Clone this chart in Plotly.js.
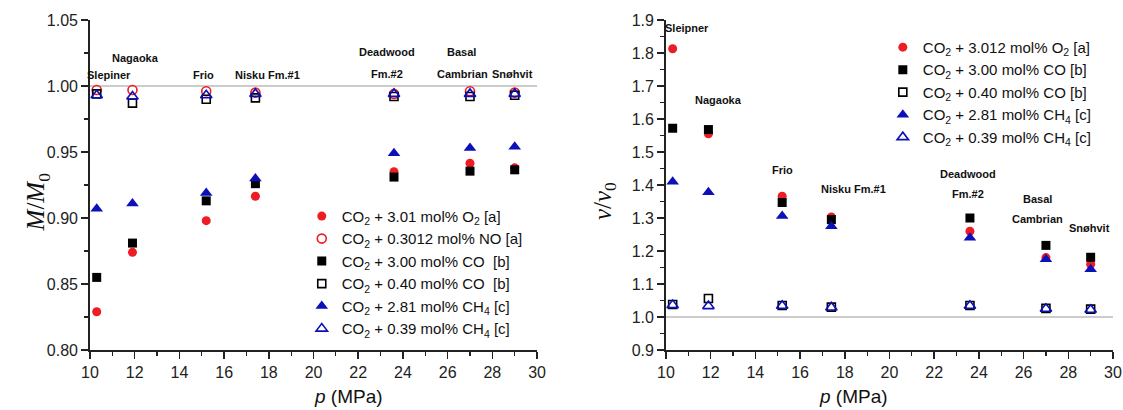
<!DOCTYPE html>
<html>
<head>
<meta charset="utf-8">
<script src="https://cdn.plot.ly/plotly-3.0.1.min.js"></script>
<style>html,body{margin:0;padding:0;background:#fff;}#chart{width:1123px;height:410px;}</style>
</head>
<body>
<div id="chart"></div>
<script>
// ---- data ----
const pressure = [10.3, 11.9, 15.2, 17.4, 23.6, 27.0, 29.0];
const sites = ["Slepiner", "Nagaoka", "Frio", "Nisku Fm.#1", "Deadwood", "Fm.#2", "Basal", "Cambrian", "Snøhvit"];
const sitesRight = ["Sleipner", "Nagaoka", "Frio", "Nisku Fm.#1", "Deadwood", "Fm.#2", "Basal", "Cambrian", "Snøhvit"];
const siteXLeft = [10.85, 12.02, 15.06, 17.93, 23.3, 23.3, 26.6, 26.65, 28.9];
const siteYLeft = [1.008, 1.021, 1.008, 1.008, 1.026, 1.009, 1.026, 1.009, 1.009];
const siteXRight = [10.93, 12.37, 15.2, 18.41, 23.53, 23.5, 26.61, 26.64, 28.94];
const siteYRight = [1.877, 1.657, 1.444, 1.388, 1.434, 1.374, 1.357, 1.298, 1.271];

// M/M0
const M_O2_301 = [0.829, 0.874, 0.898, 0.9165, 0.935, 0.9415, 0.938];
const M_NO_03012 = [0.997, 0.997, 0.996, 0.995, 0.994, 0.996, 0.995];
const M_CO_300 = [0.855, 0.881, 0.913, 0.926, 0.931, 0.9355, 0.9365];
const M_CO_040 = [0.994, 0.987, 0.990, 0.991, 0.992, 0.992, 0.993];
const M_CH4_281 = [0.907, 0.911, 0.919, 0.930, 0.949, 0.953, 0.954];
const M_CH4_039 = [0.993, 0.992, 0.993, 0.994, 0.994, 0.994, 0.994];

// v/v0
const V_O2_3012 = [1.813, 1.555, 1.366, 1.303, 1.260, 1.180, 1.160];
const V_CO_300 = [1.572, 1.568, 1.347, 1.295, 1.300, 1.217, 1.181];
const V_CO_040 = [1.038, 1.056, 1.035, 1.030, 1.035, 1.026, 1.024];
const V_CH4_281 = [1.410, 1.378, 1.306, 1.275, 1.240, 1.175, 1.145];
const V_CH4_039 = [1.036, 1.033, 1.034, 1.029, 1.034, 1.025, 1.022];

const legendLeft = [
  "CO<sub>2</sub> + 3.01 mol% O<sub>2</sub> [a]",
  "CO<sub>2</sub> + 0.3012 mol% NO [a]",
  "CO<sub>2</sub> + 3.00 mol% CO  [b]",
  "CO<sub>2</sub> + 0.40 mol% CO  [b]",
  "CO<sub>2</sub> + 2.81 mol% CH<sub>4</sub> [c]",
  "CO<sub>2</sub> + 0.39 mol% CH<sub>4</sub> [c]"
];
const legendRight = [
  "CO<sub>2</sub> + 3.012 mol% O<sub>2</sub> [a]",
  "CO<sub>2</sub> + 3.00 mol% CO [b]",
  "CO<sub>2</sub> + 0.40 mol% CO [b]",
  "CO<sub>2</sub> + 2.81 mol% CH<sub>4</sub> [c]",
  "CO<sub>2</sub> + 0.39 mol% CH<sub>4</sub> [c]"
];

// ---- styles ----
const RED = '#ee1c24', BLACK = '#000000', BLUE = '#0c10b8';
const FONT = 'Liberation Sans, Arial, sans-serif';
const SERIF = 'Liberation Serif, Times New Roman, serif';

function mk(x, y, name, symbol, color, size, xa, ya, legend) {
  const open = symbol.indexOf('open') >= 0;
  return {
    type: 'scatter', mode: 'markers', x: x, y: y, name: name,
    xaxis: xa, yaxis: ya, legend: legend, cliponaxis: false,
    marker: { symbol: symbol, color: color, size: size, line: { width: open ? 1.6 : 0, color: color } }
  };
}

const traces = [
  mk(pressure, M_O2_301, legendLeft[0], 'circle', RED, 9, 'x', 'y', 'legend'),
  mk(pressure, M_NO_03012, legendLeft[1], 'circle-open', RED, 9, 'x', 'y', 'legend'),
  mk(pressure, M_CO_300, legendLeft[2], 'square', BLACK, 9, 'x', 'y', 'legend'),
  mk(pressure, M_CO_040, legendLeft[3], 'square-open', BLACK, 8, 'x', 'y', 'legend'),
  mk(pressure, M_CH4_281, legendLeft[4], 'triangle-up', BLUE, 11, 'x', 'y', 'legend'),
  mk(pressure, M_CH4_039, legendLeft[5], 'triangle-up-open', BLUE, 10, 'x', 'y', 'legend'),
  mk(pressure, V_O2_3012, legendRight[0], 'circle', RED, 9, 'x2', 'y2', 'legend2'),
  mk(pressure, V_CO_300, legendRight[1], 'square', BLACK, 9, 'x2', 'y2', 'legend2'),
  mk(pressure, V_CO_040, legendRight[2], 'square-open', BLACK, 8, 'x2', 'y2', 'legend2'),
  mk(pressure, V_CH4_281, legendRight[3], 'triangle-up', BLUE, 11, 'x2', 'y2', 'legend2'),
  mk(pressure, V_CH4_039, legendRight[4], 'triangle-up-open', BLUE, 10, 'x2', 'y2', 'legend2')
];

const AXC = '#222';
function mainX(domain, anchor) {
  return {
    domain: domain, anchor: anchor, range: [10, 30], dtick: 2, tick0: 10,
    ticks: 'outside', ticklen: 7, tickwidth: 1.5, tickcolor: AXC,
    showline: true, linecolor: AXC, linewidth: 1.8, showgrid: false, zeroline: false,
    minor: { dtick: 1, ticks: 'outside', ticklen: 4, tickwidth: 1.2, tickcolor: AXC, showgrid: false },
    tickfont: { family: FONT, size: 16, color: '#222' }
  };
}
function mainY(range, dtick, mdtick, fmt, anchor) {
  return {
    domain: [0, 1], anchor: anchor, range: range, dtick: dtick, tick0: range[0], tickformat: fmt,
    ticks: 'outside', ticklen: 7, tickwidth: 1.5, tickcolor: AXC,
    showline: true, linecolor: AXC, linewidth: 1.8, showgrid: false, zeroline: false,
    minor: { dtick: mdtick, ticks: 'outside', ticklen: 4, tickwidth: 1.2, tickcolor: AXC, showgrid: false },
    tickfont: { family: FONT, size: 16, color: '#222' }
  };
}
function mirrorX(over, anchor) {
  return {
    overlaying: over, anchor: anchor, side: 'top', range: [10, 30], dtick: 2, tick0: 10,
    ticks: 'inside', ticklen: 5, tickwidth: 1.5, tickcolor: AXC, showticklabels: false,
    showline: true, linecolor: AXC, linewidth: 1.8, showgrid: false, zeroline: false,
    minor: { dtick: 1, ticks: 'inside', ticklen: 3, tickwidth: 1.2, tickcolor: AXC, showgrid: false }
  };
}
function mirrorY(over, anchor, range, dtick, mdtick) {
  return {
    overlaying: over, anchor: anchor, side: 'right', range: range, dtick: dtick, tick0: range[0],
    ticks: 'inside', ticklen: 5, tickwidth: 1.5, tickcolor: AXC, showticklabels: false,
    showline: true, linecolor: AXC, linewidth: 1.8, showgrid: false, zeroline: false,
    minor: { dtick: mdtick, ticks: 'inside', ticklen: 3, tickwidth: 1.2, tickcolor: AXC, showgrid: false }
  };
}

const annotations = [];
sites.forEach((s, i) => annotations.push({
  xref: 'x', yref: 'y', x: siteXLeft[i], y: siteYLeft[i], text: '<b>' + s + '</b>', showarrow: false,
  font: { family: FONT, size: 11, color: '#111' }
}));
sitesRight.forEach((s, i) => annotations.push({
  xref: 'x2', yref: 'y2', x: siteXRight[i], y: siteYRight[i], text: '<b>' + s + '</b>', showarrow: false,
  font: { family: FONT, size: 11, color: '#111' }
}));
// axis titles
annotations.push({ xref: 'paper', yref: 'paper', x: -0.068, y: 0.45, textangle: -90, showarrow: false,
  text: '<i>M</i>/<i>M</i><sub>0</sub>', font: { family: SERIF, size: 25, color: '#111' } });
annotations.push({ xref: 'paper', yref: 'paper', x: 0.503, y: 0.45, textangle: -90, showarrow: false,
  text: '<i>v</i>/<i>v</i><sub>0</sub>', font: { family: SERIF, size: 25, color: '#111' } });
annotations.push({ xref: 'paper', yref: 'paper', x: 0.217, y: -0.14, showarrow: false, yanchor: 'middle',
  text: '<i>p</i> (MPa)', font: { family: FONT, size: 19, color: '#111' } });
annotations.push({ xref: 'paper', yref: 'paper', x: 0.782, y: -0.14, showarrow: false, yanchor: 'middle',
  text: '<i>p</i> (MPa)', font: { family: FONT, size: 19, color: '#111' } });

const layout = {
  width: 1123, height: 410,
  margin: { l: 90, r: 10, t: 20, b: 60 },
  paper_bgcolor: '#fff', plot_bgcolor: '#fff',
  showlegend: true,
  xaxis: mainX([0, 0.437], 'y'),
  yaxis: mainY([0.80, 1.05], 0.05, 0.025, '.2f', 'x'),
  xaxis2: mainX([0.563, 1], 'y2'),
  yaxis2: mainY([0.9, 1.9], 0.1, 0.05, '.1f', 'x2'),
  xaxis3: mirrorX('x', 'y'),
  yaxis3: mirrorY('y', 'x', [0.80, 1.05], 0.05, 0.025),
  xaxis4: mirrorX('x2', 'y2'),
  yaxis4: mirrorY('y2', 'x2', [0.9, 1.9], 0.1, 0.05),
  legend: { x: 0.207, y: 0.455, xanchor: 'left', yanchor: 'top', bgcolor: 'rgba(0,0,0,0)',
    font: { family: FONT, size: 15, color: '#111' }, tracegroupgap: 0 },
  legend2: { x: 0.775, y: 0.967, xanchor: 'left', yanchor: 'top', bgcolor: 'rgba(0,0,0,0)',
    font: { family: FONT, size: 15, color: '#111' }, tracegroupgap: 0 },
  shapes: [
    { type: 'line', xref: 'x domain', yref: 'y', x0: 0, x1: 1, y0: 1.0, y1: 1.0, line: { color: '#999', width: 1 }, layer: 'below' },
    { type: 'line', xref: 'x2 domain', yref: 'y2', x0: 0, x1: 1, y0: 1.0, y1: 1.0, line: { color: '#999', width: 1 }, layer: 'below' }
  ],
  annotations: annotations
};

Plotly.newPlot('chart', traces, layout, { displayModeBar: false, staticPlot: true });
</script>
</body>
</html>
